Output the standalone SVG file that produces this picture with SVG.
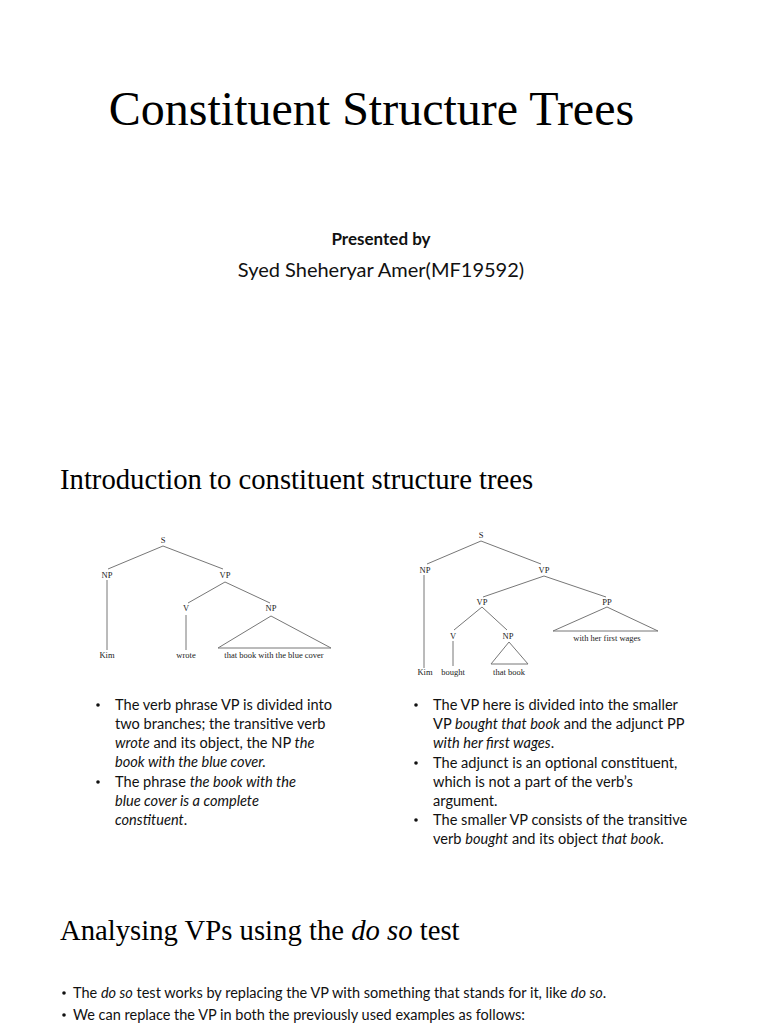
<svg xmlns="http://www.w3.org/2000/svg" width="768" height="1024" viewBox="0 0 768 1024">
<style>
.title{font-family:"Liberation Serif",serif;fill:#000}
.body{font-family:Lato,"Liberation Sans",sans-serif;fill:#111}
.tl{font-family:"Liberation Serif",serif;font-size:8.5px;fill:#222;text-anchor:middle}
.edge{stroke:#777;stroke-width:1;fill:none}
.tri{stroke:#777;stroke-width:1;fill:none}
</style>
<rect width="768" height="1024" fill="#fff"/>
<g id="header">
<text class="title" x="371.5" y="125" font-size="48" text-anchor="middle">Constituent Structure Trees</text>
<text class="body" x="381" y="245" font-size="17" font-weight="bold" text-anchor="middle">Presented by</text>
<text class="body" x="381" y="277" font-size="20" text-anchor="middle">Syed Sheheryar Amer(MF19592)</text>
<text class="title" x="60" y="489" font-size="28.7">Introduction to constituent structure trees</text>
</g>
<g id="tree1">
<g id="t1-connectors">
<line class="edge" x1="163" y1="546" x2="108" y2="569"/>
<line class="edge" x1="163" y1="546" x2="223" y2="569"/>
<line class="edge" x1="107" y1="580" x2="107" y2="650"/>
<line class="edge" x1="225" y1="582" x2="188" y2="603"/>
<line class="edge" x1="225" y1="582" x2="270" y2="603"/>
<line class="edge" x1="186" y1="615" x2="186" y2="650"/>
<polygon class="tri" points="271,616 218,648 331,648"/>
</g>
<g id="t1-S"><text class="tl" x="163" y="543">S</text></g>
<g id="t1-NP"><text class="tl" x="107" y="578">NP</text></g>
<g id="t1-VP"><text class="tl" x="225" y="578">VP</text></g>
<g id="t1-V"><text class="tl" x="186" y="611">V</text></g>
<g id="t1-NP2"><text class="tl" x="271" y="611">NP</text></g>
<g id="t1-Kim"><text class="tl" x="107" y="658">Kim</text></g>
<g id="t1-wrote"><text class="tl" x="186" y="658">wrote</text></g>
<g id="t1-phrase"><text class="tl" x="274" y="658">that book with the blue cover</text></g>
</g>
<g id="tree2">
<g id="t2-connectors">
<line class="edge" x1="481" y1="541" x2="427" y2="564"/>
<line class="edge" x1="481" y1="541" x2="541" y2="564"/>
<line class="edge" x1="424" y1="575" x2="424" y2="668"/>
<line class="edge" x1="544" y1="576" x2="483" y2="597"/>
<line class="edge" x1="544" y1="576" x2="606" y2="597"/>
<line class="edge" x1="482" y1="607" x2="454" y2="630"/>
<line class="edge" x1="482" y1="607" x2="507" y2="630"/>
<line class="edge" x1="453" y1="641" x2="453" y2="666"/>
<polygon class="tri" points="607,607 553,631 658,631"/>
<polygon class="tri" points="509,642 491,664 528,664"/>
</g>
<g id="t2-S"><text class="tl" x="481" y="538">S</text></g>
<g id="t2-NP"><text class="tl" x="425" y="573">NP</text></g>
<g id="t2-VP"><text class="tl" x="544" y="573">VP</text></g>
<g id="t2-VP2"><text class="tl" x="482" y="605">VP</text></g>
<g id="t2-PP"><text class="tl" x="607" y="605">PP</text></g>
<g id="t2-V"><text class="tl" x="453" y="639">V</text></g>
<g id="t2-NP3"><text class="tl" x="508" y="639">NP</text></g>
<g id="t2-pp-text"><text class="tl" x="607" y="641">with her first wages</text></g>
<g id="t2-Kim"><text class="tl" x="425" y="675">Kim</text></g>
<g id="t2-bought"><text class="tl" x="453" y="675">bought</text></g>
<g id="t2-thatbook"><text class="tl" x="509" y="675">that book</text></g>
</g>
<g id="left-bullets" class="body" font-size="14.6">
<circle cx="98" cy="705" r="1.8" fill="#111"/>
<text x="115" y="710">The verb phrase VP is divided into</text>
<text x="115" y="729">two branches; the transitive verb</text>
<text x="115" y="748"><tspan font-style="italic">wrote</tspan> and its object, the NP <tspan font-style="italic">the</tspan></text>
<text x="115" y="767" font-style="italic">book with the blue cover.</text>
<circle cx="98" cy="782" r="1.8" fill="#111"/>
<text x="115" y="787">The phrase <tspan font-style="italic">the book with the</tspan></text>
<text x="115" y="806" font-style="italic">blue cover is a complete</text>
<text x="115" y="825"><tspan font-style="italic">constituent</tspan>.</text>
</g>
<g id="right-bullets" class="body" font-size="14.6">
<circle cx="416" cy="705" r="1.8" fill="#111"/>
<text x="433" y="710">The VP here is divided into the smaller</text>
<text x="433" y="729">VP <tspan font-style="italic">bought that book</tspan> and the adjunct PP</text>
<text x="433" y="748"><tspan font-style="italic">with her first wages</tspan>.</text>
<circle cx="416" cy="763" r="1.8" fill="#111"/>
<text x="433" y="768">The adjunct is an optional constituent,</text>
<text x="433" y="787">which is not a part of the verb’s</text>
<text x="433" y="806">argument.</text>
<circle cx="416" cy="820" r="1.8" fill="#111"/>
<text x="433" y="825">The smaller VP consists of the transitive</text>
<text x="433" y="844">verb <tspan font-style="italic">bought</tspan> and its object <tspan font-style="italic">that book</tspan>.</text>
</g>
<g id="section2">
<text class="title" x="60" y="940" font-size="28.7">Analysing VPs using the <tspan font-style="italic">do so</tspan> test</text>
<g class="body" font-size="14.5">
<circle cx="64" cy="993" r="1.8" fill="#111"/>
<text x="73" y="998">The <tspan font-style="italic">do so</tspan> test works by replacing the VP with something that stands for it, like <tspan font-style="italic">do so</tspan>.</text>
<circle cx="64" cy="1015" r="1.8" fill="#111"/>
<text x="73" y="1020">We can replace the VP in both the previously used examples as follows:</text>
</g>
</g>
</svg>
